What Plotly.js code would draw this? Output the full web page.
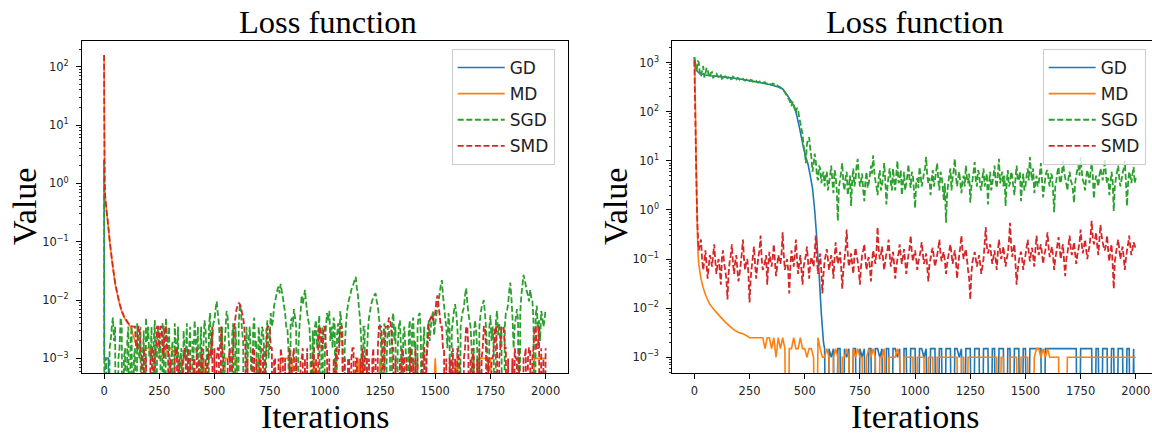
<!DOCTYPE html>
<html><head><meta charset="utf-8">
<script src="https://cdn.plot.ly/plotly-3.0.1.min.js"></script>
<style>html,body{margin:0;padding:0;background:#fff}#chart{width:1152px;height:435px}</style>
</head><body><div id="chart"></div>
<script>
// ---------------- data ----------------
const X_TICKS = [0, 250, 500, 750, 1000, 1250, 1500, 1750, 2000];
const Y_TICKS = [1e-3, 1e-2, 1e-1, 1, 10, 100, 1000];
const Y_TICK_TEXT = ['10<sup>−3</sup>', '10<sup>−2</sup>', '10<sup>−1</sup>', '10<sup>0</sup>', '10<sup>1</sup>', '10<sup>2</sup>', '10<sup>3</sup>'];
const SERIES_NAMES = ['GD', 'MD', 'SGD', 'SMD'];
const TITLE_TEXT = 'Loss function';
const X_TITLE = 'Iterations';
const Y_TITLE = 'Value';

// ===== Left panel =====
const leftGDIters = [0, 1, 5, 10, 15, 20, 22, 2000];
const leftGDValues = [2.5, 0.001, 0.001, 0.001, 0.001, 0.001, 0, 0];

const leftDecayIters = [0, 1, 2, 3, 5, 8, 12, 16, 20, 25, 30, 35, 40, 45, 50, 60, 70, 80, 90, 100, 110, 120];
const leftMDDecay = [155, 13, 2.5, 0.95, 0.6, 0.44, 0.31, 0.23, 0.165, 0.105, 0.072, 0.05, 0.036, 0.026, 0.019, 0.0125, 0.0085, 0.0064, 0.0051, 0.0044, 0.0039, 0.0035];
const leftMDTail = [0.0015, 0.0015, 0.001, 0.0015, 0.001, 0, 0.001, 0, 0.001, 0.001,
  0, 0.001, 0, 0.001, 0.001, 0, 0.001, 0, 0.001, 0,
  0.001, 0, 0.001, 0, 0.001, 0.001, 0, 0.001, 0, 0.001,
  0, 0.001, 0.001, 0, 0.001, 0, 0.001, 0.001]; // iterations 150..2000, every 50

const leftSGDHeadIters = [0, 1, 2, 5];
const leftSGDHead = [2.5, 0.001, 0, 0.001];
const leftSGDTail = [ // iterations 10, 20, ..., 2000
  0.001, 0, 0.002, 0.005, 0.0035, 0, 0.0015, 0.0035, 0.001, 0,
  0.0035, 0.002, 0, 0.0015, 0.004, 0.001, 0, 0.003, 0.005, 0.0035,
  0.001, 0, 0.0045, 0.002, 0.001, 0, 0.0035, 0.005, 0.0015, 0,
  0.002, 0.004, 0.001, 0, 0.0015, 0.003, 0.001, 0, 0.0035, 0.002,
  0.0045, 0.001, 0, 0.0035, 0.0015, 0.003, 0, 0.006, 0.002, 0.0045,
  0.0095, 0.004, 0.0015, 0, 0.003, 0.005, 0.001, 0.0025, 0, 0.0015,
  0.004, 0.0065, 0.002, 0, 0.001, 0.0035, 0, 0.005, 0.002, 0.0035,
  0.001, 0.003, 0, 0.0045, 0.002, 0.0035, 0.008, 0.012, 0.017, 0.019,
  0.011, 0.006, 0.0035, 0, 0.005, 0.007, 0.0035, 0.0015, 0.006, 0.0085,
  0.015, 0.006, 0.0035, 0, 0.001, 0.0045, 0.003, 0, 0.0035, 0.0015,
  0.006, 0.0065, 0.0035, 0.005, 0, 0.004, 0.0065, 0.003, 0.0015, 0.006,
  0.0105, 0.015, 0.019, 0.025, 0.012, 0.0045, 0, 0.0035, 0.001, 0.005,
  0.0085, 0.011, 0.013, 0.008, 0.0035, 0, 0.004, 0.001, 0.0035, 0,
  0.006, 0.0035, 0.0015, 0.0045, 0, 0.0035, 0.001, 0.003, 0, 0.005,
  0.002, 0.0035, 0.006, 0, 0.0035, 0.001, 0.0045, 0.0035, 0.0065, 0.004,
  0.0075, 0.013, 0.022, 0.008, 0.0035, 0.006, 0, 0.0045, 0.0085, 0.0035,
  0, 0.005, 0.0075, 0.016, 0.006, 0.0035, 0, 0.0045, 0.0015, 0.0035,
  0.0075, 0.01, 0.0035, 0, 0.0055, 0.0035, 0, 0.0065, 0.004, 0.0035,
  0, 0.006, 0.0085, 0.02, 0.005, 0.0035, 0.007, 0, 0.012, 0.027,
  0.018, 0.012, 0.015, 0.01, 0, 0.008, 0.0045, 0.0065, 0.0035, 0.007];
const leftSGDMid = [ // iterations 15, 25, ..., 1995
  0, 0.0015, 0.0035, 0.002, 0, 0.001, 0.005, 0, 0.0015, 0.002,
  0, 0.0035, 0.001, 0, 0.0015, 0.0035, 0.001, 0, 0.002, 0.001,
  0.0035, 0.002, 0, 0.0035, 0.002, 0.004, 0, 0.0025, 0.0035, 0.001,
  0, 0.0015, 0.0035, 0.001, 0, 0.0015, 0.004, 0.0015, 0, 0.001,
  0.002, 0.0035, 0.0015, 0, 0.0045, 0.001, 0.0035, 0.001, 0.004, 0.007,
  0.006, 0.0015, 0.0035, 0.0015, 0.0065, 0.002, 0, 0.004, 0.0035, 0,
  0.0085, 0.003, 0, 0.0035, 0.002, 0.001, 0.003, 0.0015, 0, 0.002,
  0.0035, 0.0015, 0.003, 0.001, 0.006, 0.0045, 0.0095, 0.015, 0.013, 0.014,
  0.008, 0.0035, 0.0015, 0.004, 0.0035, 0.005, 0, 0.0035, 0.012, 0.011,
  0.009, 0.0045, 0.0015, 0.003, 0.0035, 0.0015, 0.0055, 0.002, 0, 0.0035,
  0.0045, 0.002, 0.0015, 0.0035, 0.0025, 0.0015, 0.004, 0, 0.0035, 0.0085,
  0.012, 0.017, 0.022, 0.016, 0.007, 0.002, 0.0035, 0, 0.003, 0.0065,
  0.01, 0.0125, 0.0095, 0.005, 0.0015, 0.0025, 0, 0.0035, 0.0015, 0.0045,
  0.002, 0, 0.0035, 0.0015, 0.0025, 0.0015, 0, 0.0045, 0.0035, 0.0015,
  0, 0.0055, 0.0025, 0.0015, 0, 0.003, 0.002, 0.005, 0.0025, 0.0055,
  0.0095, 0.018, 0.012, 0.005, 0.0015, 0.0035, 0.003, 0.0065, 0.006, 0.0015,
  0.0035, 0.0065, 0.012, 0.0095, 0.0045, 0.0015, 0.0025, 0.003, 0, 0.0055,
  0.0085, 0.006, 0.0015, 0.0035, 0.002, 0.0015, 0.0045, 0.0025, 0.0015, 0,
  0.0035, 0.0065, 0.014, 0.011, 0.0015, 0.005, 0.0045, 0.006, 0.018, 0.022,
  0.014, 0.0095, 0.011, 0.0045, 0.0055, 0.003, 0.002, 0.005, 0.0045];

const leftSMDDecay = [158, 14, 2.6, 1.0, 0.62, 0.45, 0.32, 0.24, 0.17, 0.11, 0.075, 0.052, 0.037, 0.027, 0.02, 0.013, 0.0088, 0.0066, 0.0053, 0.0046, 0.004, 0.0036];
const leftSMDTail = [ // iterations 130, 140, ..., 2000
  0.0035, 0.0035, 0.0015, 0.0035, 0.001, 0.0015, 0.001, 0, 0.001, 0.0015,
  0.001, 0.0035, 0.0015, 0.0035, 0.001, 0.0035, 0.0015, 0.001, 0, 0.001,
  0.0015, 0.001, 0, 0.001, 0.001, 0.0015, 0.001, 0, 0.001, 0.0015,
  0.001, 0.001, 0, 0.001, 0.0015, 0.001, 0.0035, 0.0015, 0.001, 0.0015,
  0.0035, 0.001, 0, 0.001, 0.0015, 0.001, 0.0035, 0.007, 0.009, 0.0075,
  0.005, 0.0015, 0.001, 0, 0.001, 0.0015, 0.001, 0, 0.001, 0.0015,
  0.001, 0.0035, 0.0035, 0.0015, 0.001, 0, 0.001, 0.0015, 0.001, 0.001,
  0, 0.0015, 0.001, 0.0015, 0.001, 0, 0.001, 0.0015, 0.001, 0.0015,
  0, 0.001, 0.0015, 0.001, 0.0015, 0.0035, 0.0015, 0.0035, 0.0015, 0.001,
  0, 0.001, 0.0015, 0.001, 0.0035, 0.0015, 0.001, 0, 0.001, 0.001,
  0.0015, 0.001, 0, 0.001, 0.0015, 0.001, 0.0015, 0.001, 0, 0.0015,
  0.001, 0.0015, 0.0035, 0.0015, 0.001, 0.0035, 0.005, 0.0035, 0.0015, 0.001,
  0, 0.001, 0.0015, 0.001, 0.001, 0, 0.0015, 0.001, 0.0015, 0.001,
  0, 0.001, 0.0015, 0.001, 0.0035, 0.005, 0.0045, 0.006, 0.012, 0.0055,
  0.0035, 0.0015, 0.001, 0, 0.001, 0.0015, 0.001, 0.0015, 0.001, 0,
  0.001, 0.0035, 0.0015, 0.001, 0.0015, 0, 0.001, 0.0015, 0.001, 0.0035,
  0.0015, 0.001, 0, 0.001, 0.0035, 0.0015, 0.001, 0.0035, 0.0035, 0.0015,
  0.001, 0, 0.001, 0.0015, 0.001, 0.0015, 0, 0.001, 0.0015, 0.001,
  0.0015, 0.001, 0.0035, 0.0015, 0.0035, 0.0015, 0.001, 0.0015];
const leftSMDMid = [ // iterations 135, 145, ..., 1995
  0.0035, 0.0015, 0.0035, 0.0015, 0, 0.001, 0, 0, 0.0015, 0,
  0.0015, 0.0035, 0.0035, 0.0015, 0.0035, 0.0015, 0, 0, 0, 0.0015,
  0, 0, 0.001, 0.0015, 0, 0, 0, 0.001, 0, 0,
  0, 0.0015, 0, 0, 0.001, 0.0015, 0, 0, 0.0015, 0,
  0.0015, 0, 0, 0.001, 0, 0.0015, 0.005, 0.008, 0.0085, 0.006,
  0.0035, 0, 0, 0, 0.0015, 0, 0, 0.001, 0, 0,
  0.0015, 0.0035, 0.0015, 0, 0.001, 0, 0, 0.001, 0, 0,
  0, 0, 0.001, 0, 0, 0, 0.001, 0, 0, 0,
  0, 0.001, 0, 0, 0.0035, 0.0015, 0.0035, 0.0015, 0, 0,
  0, 0, 0.001, 0.0015, 0.0035, 0, 0, 0.001, 0, 0.0015,
  0, 0.001, 0, 0, 0, 0.001, 0, 0, 0.001, 0,
  0, 0.0035, 0.0035, 0, 0.0035, 0.0035, 0.0045, 0.0015, 0, 0,
  0, 0, 0.001, 0, 0, 0.001, 0, 0, 0, 0,
  0, 0.001, 0, 0.0015, 0.0045, 0.0055, 0.005, 0.0095, 0.008, 0.0035,
  0.0015, 0, 0, 0.001, 0, 0, 0, 0.001, 0, 0,
  0.0015, 0.0035, 0, 0, 0.001, 0, 0, 0, 0.0015, 0.0035,
  0, 0, 0.001, 0.0015, 0.0035, 0, 0.0015, 0.0035, 0.0015, 0,
  0, 0, 0, 0.001, 0, 0, 0, 0.001, 0, 0.0015,
  0, 0.0015, 0.0035, 0.0015, 0, 0, 0];

// ===== Right panel =====
const rightGDHeadIters = [0, 3, 10, 20, 30, 50, 75, 100, 150, 200, 250, 300, 350, 380, 400, 420, 440, 455, 465, 475, 485, 495, 505, 515, 525, 535, 545, 550, 555, 560, 565, 570, 575, 580, 585];
const rightGDHead = [1300, 1000, 700, 620, 590, 560, 540, 530, 500, 470, 430, 390, 350, 320, 290, 220, 160, 120, 80, 50, 30, 18, 12, 8.5, 5, 2.8, 1.0, 0.5, 0.25, 0.1, 0.05, 0.02, 0.008, 0.004, 0.002];
const rightGDTail = [ // iterations 590, 600, ..., 2000
  0.0015, 0, 0.0015, 0.001, 0.0015, 0, 0.0015, 0.0015, 0, 0.0015,
  0.001, 0.0015, 0, 0.0015, 0.0015, 0, 0.0015, 0.001, 0.0015, 0,
  0.0015, 0.0015, 0, 0.0015, 0.0015, 0.001, 0.0015, 0, 0.0015, 0.0015,
  0, 0.0015, 0.0015, 0.001, 0.0015, 0, 0.0015, 0.0015, 0, 0.0015,
  0.0015, 0.0015, 0, 0.0015, 0.0015, 0.001, 0.0015, 0, 0.0015, 0.0015,
  0.0015, 0, 0.0015, 0.0015, 0, 0.0015, 0.0015, 0.0015, 0, 0.0015,
  0.0015, 0.001, 0.0015, 0, 0.0015, 0.0015, 0.0015, 0, 0.0015, 0.0015,
  0.0015, 0, 0.0015, 0.0015, 0.0015, 0, 0.0015, 0.0015, 0, 0.0015,
  0.0015, 0.0015, 0, 0.0015, 0.0015, 0, 0.0015, 0.0015, 0.0015, 0,
  0.0015, 0.0015, 0, 0.0015, 0.0015, 0.0015, 0.0015, 0.0015, 0.0015, 0,
  0.0015, 0.0015, 0.0015, 0.0015, 0.0015, 0.0015, 0.0015, 0.0015, 0.0015, 0.0015,
  0.0015, 0.0015, 0.0015, 0.0015, 0.0015, 0, 0.0015, 0.0015, 0.0015, 0.0015,
  0.0015, 0.0015, 0, 0.0015, 0.0015, 0, 0.0015, 0.0015, 0.0015, 0,
  0.0015, 0.0015, 0, 0.0015, 0.0015, 0.0015, 0, 0.0015, 0.0015, 0,
  0.0015, 0];

const rightMDHeadIters = [0, 2, 5, 8, 11, 14, 17, 20, 25, 30, 40, 50, 60, 70, 80, 90, 100, 120, 140, 160, 180, 200, 220, 240, 250];
const rightMDHead = [1200, 600, 100, 10, 1.5, 0.3, 0.12, 0.08, 0.055, 0.04, 0.026, 0.019, 0.015, 0.012, 0.0105, 0.0092, 0.0082, 0.0065, 0.0052, 0.0043, 0.0036, 0.0032, 0.003, 0.0027, 0.0025];
const rightMDTail = [ // iterations 260, 270, ..., 2000
  0.0025, 0.0025, 0.0025, 0.0025, 0.0025, 0.0025, 0.0015, 0.0025, 0.0025, 0.0015,
  0.0025, 0.001, 0.0025, 0.0015, 0.0025, 0.0015, 0, 0.0015, 0.0015, 0.0025,
  0.0015, 0.0015, 0.0025, 0.0015, 0.0015, 0.001, 0.0015, 0.0015, 0.001, 0,
  0.0025, 0.0015, 0.001, 0.001, 0.0015, 0.001, 0, 0.001, 0.0015, 0.001,
  0, 0.001, 0.001, 0.0015, 0.001, 0, 0.0015, 0.001, 0.0015, 0.001,
  0.001, 0, 0.001, 0.0015, 0.001, 0.0015, 0.001, 0, 0.001, 0.001,
  0.0015, 0, 0.001, 0.001, 0.001, 0.001, 0.0015, 0.001, 0, 0.001,
  0.001, 0.001, 0.001, 0.001, 0, 0.001, 0.001, 0.001, 0.001, 0,
  0.001, 0.001, 0.001, 0, 0.001, 0.001, 0.001, 0.001, 0.001, 0.001,
  0.001, 0.001, 0.001, 0.001, 0, 0.001, 0.001, 0, 0.001, 0.001,
  0.001, 0.001, 0.001, 0.001, 0.001, 0.001, 0.001, 0.001, 0.001, 0.001,
  0.001, 0.001, 0, 0.001, 0.001, 0, 0, 0.001, 0.001, 0.001,
  0.001, 0, 0.001, 0.001, 0.001, 0.001, 0, 0, 0.001, 0.0015,
  0.0015, 0.001, 0.0015, 0.001, 0.0015, 0.001, 0.001, 0.001, 0.001, 0.001,
  0, 0, 0, 0.001, 0.001, 0.001, 0.001, 0.001, 0.001, 0.001,
  0.001, 0.001, 0.001, 0.001, 0.001, 0.001, 0.001, 0.001, 0.001, 0.001,
  0.001, 0.001, 0.001, 0.001, 0.001, 0.001, 0.001, 0.001, 0.001, 0.001,
  0.001, 0.001, 0.001, 0.001, 0.001];

const rightSGD = [ // iterations 0, 10, ..., 2000
  1300, 650, 1000, 520, 850, 560, 720, 500, 640, 540,
  600, 510, 560, 490, 530, 480, 520, 470, 500, 455,
  480, 440, 470, 430, 455, 420, 440, 405, 425, 395,
  410, 380, 400, 370, 385, 355, 370, 340, 330, 310,
  280, 250, 200, 175, 130, 140, 95, 110, 60, 35,
  15, 22, 30, 12, 8, 10, 4, 7, 5, 3,
  6, 3.5, 8, 2.2, 5, 0.6, 4, 9, 2.5, 6,
  3, 1.2, 7, 4, 11, 3, 5.5, 1.5, 6, 3.5,
  8, 13, 4, 2, 6.5, 3, 9, 1.3, 5, 3.5,
  7, 2.5, 10, 4, 2, 6, 3.5, 8.5, 2.8, 5,
  1.1, 4.5, 7.5, 3, 5.5, 12, 3.5, 2, 6.5, 4,
  9, 2.5, 5, 1.6, 0.55, 3.5, 7, 4.5, 11, 3,
  6, 2.2, 5, 8, 3.5, 1.4, 4, 9.5, 3, 5.5,
  2.5, 7, 4, 1.3, 6, 3.5, 8, 2.8, 11, 4.5,
  3, 1.2, 6.5, 3.5, 5, 2, 8, 4, 1.5, 5.5,
  3, 7, 12, 4, 2.2, 5, 3.5, 9, 1.8, 4.5,
  6.5, 3, 5, 0.9, 4, 7.5, 3.5, 10, 4.5, 2.5,
  6, 3.5, 1.4, 5, 8, 12, 4, 2.5, 6.5, 3.5,
  9, 1.7, 5, 3, 7, 4, 11, 3.5, 2, 6,
  0.95, 4.5, 8, 3, 5.5, 10, 1.2, 6, 3.5, 7.5,
  4.5];
const rightSGDMid = [ // iterations 5, 15, ..., 1995
  900, 1100, 600, 700, 500, 780, 560, 620, 480, 610,
  520, 580, 470, 540, 500, 505, 460, 520, 470, 490,
  450, 460, 440, 450, 425, 445, 410, 430, 400, 415,
  390, 395, 380, 375, 360, 375, 350, 345, 325, 300,
  270, 230, 190, 150, 160, 110, 120, 75, 45, 20,
  9, 28, 18, 6, 14, 5, 8, 3.5, 6, 5,
  2.5, 5, 4, 6.5, 2.5, 3, 6, 3.5, 4.5, 2,
  5, 4, 3, 8, 5, 4, 2.5, 4, 2.8, 5,
  5.5, 6, 3, 4.5, 2.5, 5, 4, 3, 7, 2.5,
  4, 5.5, 3.5, 6.5, 3.5, 2.5, 5, 4, 6, 2.5,
  3.5, 2.8, 5, 4, 7, 5, 4.5, 4, 3, 6,
  4, 6, 3, 3.5, 2, 5, 2.5, 6.5, 5, 4.5,
  3.5, 4, 3, 4.5, 5.5, 3, 6, 4, 6.5, 3,
  4.5, 3, 5.5, 3.5, 2.5, 5, 4, 5.5, 3.5, 6,
  5, 3.5, 3, 6, 3, 4.5, 4, 6, 3.5, 2.5,
  5, 4, 6, 7, 3.5, 3, 5.5, 4, 3, 6,
  4, 5.5, 2.5, 3, 6, 4, 5.5, 6, 3.5, 4.5,
  4, 2.5, 3.5, 6.5, 5, 6, 3.5, 4.5, 5, 6,
  5, 3.5, 4, 5, 5.5, 6.5, 5, 4.5, 3.5, 4,
  3, 6, 4.5, 4, 7, 4, 3.5, 5, 5.5, 3.5];

const rightSMDHeadIters = [0, 2, 5, 8, 11, 14, 17, 20];
const rightSMDHead = [1100, 300, 50, 8, 1.5, 0.5, 0.25, 0.15];
const rightSMDTail = [ // iterations 30, 40, ..., 2000
  0.25, 0.06, 0.15, 0.04, 0.12, 0.07, 0.2, 0.05, 0.1, 0.03,
  0.15, 0.06, 0.015, 0.09, 0.2, 0.05, 0.12, 0.035, 0.08, 0.25,
  0.06, 0.1, 0.013, 0.07, 0.18, 0.04, 0.11, 0.3, 0.06, 0.09,
  0.03, 0.14, 0.07, 0.2, 0.045, 0.12, 0.08, 0.35, 0.06, 0.1,
  0.02, 0.15, 0.07, 0.25, 0.05, 0.12, 0.03, 0.09, 0.18, 0.04,
  0.11, 0.07, 0.3, 0.05, 0.13, 0.02, 0.09, 0.16, 0.06, 0.12,
  0.04, 0.22, 0.08, 0.14, 0.025, 0.1, 0.4, 0.07, 0.13, 0.05,
  0.17, 0.09, 0.03, 0.12, 0.2, 0.06, 0.11, 0.035, 0.15, 0.08,
  0.45, 0.1, 0.18, 0.06, 0.13, 0.25, 0.07, 0.14, 0.04, 0.1,
  0.2, 0.08, 0.16, 0.05, 0.12, 0.3, 0.09, 0.15, 0.06, 0.11,
  0.22, 0.08, 0.13, 0.035, 0.1, 0.17, 0.07, 0.12, 0.25, 0.09,
  0.14, 0.05, 0.11, 0.2, 0.08, 0.15, 0.04, 0.12, 0.3, 0.1,
  0.16, 0.06, 0.015, 0.09, 0.14, 0.07, 0.12, 0.05, 0.1, 0.45,
  0.13, 0.2, 0.08, 0.15, 0.06, 0.25, 0.1, 0.18, 0.07, 0.13,
  0.55, 0.11, 0.2, 0.03, 0.09, 0.14, 0.06, 0.12, 0.25, 0.09,
  0.17, 0.07, 0.3, 0.12, 0.2, 0.08, 0.15, 0.35, 0.11, 0.18,
  0.06, 0.14, 0.28, 0.1, 0.2, 0.045, 0.13, 0.3, 0.12, 0.22,
  0.08, 0.16, 0.4, 0.13, 0.25, 0.1, 0.18, 0.6, 0.2, 0.35,
  0.12, 0.5, 0.22, 0.15, 0.3, 0.09, 0.2, 0.025, 0.13, 0.25,
  0.1, 0.18, 0.06, 0.15, 0.3, 0.12, 0.22, 0.15];
const rightSMDMid = [ // iterations 35, 45, ..., 1995
  0.1, 0.09, 0.08, 0.07, 0.1, 0.12, 0.09, 0.08, 0.06, 0.11,
  0.08, 0.04, 0.05, 0.12, 0.08, 0.09, 0.06, 0.05, 0.13, 0.1,
  0.09, 0.05, 0.04, 0.11, 0.08, 0.07, 0.15, 0.1, 0.07, 0.12,
  0.08, 0.09, 0.11, 0.09, 0.07, 0.1, 0.13, 0.12, 0.08, 0.06,
  0.07, 0.1, 0.12, 0.1, 0.08, 0.06, 0.07, 0.12, 0.09, 0.08,
  0.09, 0.13, 0.1, 0.08, 0.06, 0.05, 0.12, 0.1, 0.08, 0.09,
  0.1, 0.12, 0.1, 0.07, 0.06, 0.16, 0.13, 0.09, 0.08, 0.11,
  0.12, 0.06, 0.07, 0.15, 0.1, 0.09, 0.07, 0.09, 0.11, 0.14,
  0.16, 0.12, 0.1, 0.09, 0.15, 0.12, 0.1, 0.08, 0.07, 0.13,
  0.12, 0.11, 0.09, 0.08, 0.17, 0.14, 0.12, 0.1, 0.09, 0.15,
  0.13, 0.1, 0.07, 0.08, 0.14, 0.11, 0.09, 0.16, 0.13, 0.12,
  0.09, 0.08, 0.15, 0.13, 0.11, 0.09, 0.07, 0.18, 0.14, 0.13,
  0.1, 0.04, 0.05, 0.11, 0.1, 0.09, 0.08, 0.07, 0.2, 0.18,
  0.16, 0.12, 0.11, 0.1, 0.14, 0.15, 0.13, 0.11, 0.1, 0.22,
  0.2, 0.15, 0.08, 0.06, 0.12, 0.1, 0.09, 0.17, 0.14, 0.13,
  0.11, 0.15, 0.18, 0.16, 0.13, 0.12, 0.22, 0.17, 0.14, 0.12,
  0.1, 0.2, 0.16, 0.15, 0.09, 0.1, 0.19, 0.17, 0.16, 0.13,
  0.12, 0.22, 0.2, 0.18, 0.16, 0.14, 0.3, 0.28, 0.25, 0.19,
  0.25, 0.3, 0.17, 0.2, 0.14, 0.15, 0.08, 0.09, 0.18, 0.16,
  0.14, 0.11, 0.1, 0.2, 0.18, 0.16, 0.19];

// ---------------- helpers ----------------
const COLORS = {GD: '#1f77b4', MD: '#ff7f0e', SGD: '#2ca02c', SMD: '#d62728'};
const DASHES = {GD: 'solid', MD: 'solid', SGD: '6px,2.6px', SMD: '6px,2.6px'};
const WIDTHS = {GD: 1.6, MD: 1.6, SGD: 1.8, SMD: 1.8};
const FLOOR = 1e-7; // a zero loss cannot sit on a log axis: send it below the axis, where it is clipped

function grid(start, step, n) { const a = []; for (let i = 0; i < n; i++) a.push(start + i * step); return a; }
function interleave(a, b) { const out = []; for (let i = 0; i < a.length; i++) { out.push(a[i]); if (i < b.length) out.push(b[i]); } return out; }
function series(headIters, headVals, tailStart, tailStep, tailVals) {
  const x = headIters.concat(tailVals ? grid(tailStart, tailStep, tailVals.length) : []);
  const y = headVals.concat(tailVals || []).map(v => (v > 0 ? v : FLOOR));
  return {x, y};
}
function trace(s, name, xa, ya, legend) {
  return {type: 'scatter', mode: 'lines', x: s.x, y: s.y, name: name, xaxis: xa, yaxis: ya,
    legend: legend, legendgroup: legend + name,
    line: {color: COLORS[name], width: WIDTHS[name], dash: DASHES[name], simplify: false}, hoverinfo: 'skip'};
}

const leftData = {
  GD: series(leftGDIters, leftGDValues),
  MD: series(leftDecayIters, leftMDDecay, 150, 50, leftMDTail),
  SGD: series(leftSGDHeadIters, leftSGDHead, 10, 5, interleave(leftSGDTail, leftSGDMid)),
  SMD: series(leftDecayIters, leftSMDDecay, 130, 5, interleave(leftSMDTail, leftSMDMid))
};
const rightData = {
  GD: series(rightGDHeadIters, rightGDHead, 590, 10, rightGDTail),
  MD: series(rightMDHeadIters, rightMDHead, 260, 10, rightMDTail),
  SGD: series([], [], 0, 5, interleave(rightSGD, rightSGDMid)),
  SMD: series(rightSMDHeadIters, rightSMDHead, 30, 5, interleave(rightSMDTail, rightSMDMid))
};

const traces = [];
SERIES_NAMES.forEach(n => traces.push(trace(leftData[n], n, 'x', 'y', 'legend')));
SERIES_NAMES.forEach(n => traces.push(trace(rightData[n], n, 'x2', 'y2', 'legend2')));

// ---------------- layout ----------------
const W = 1152, H = 435;
const tickFont = {family: 'DejaVu Sans, sans-serif', size: 11.5, color: '#222'};
const serif = 'Liberation Serif, Times New Roman, serif';
function xAxis(domain, range, anchor) {
  return {domain, range, anchor, tickmode: 'array', tickvals: X_TICKS, ticks: 'outside', ticklen: 5, tickwidth: 1,
    tickcolor: '#000', showline: true, linecolor: '#000', linewidth: 1, mirror: true, showgrid: false,
    zeroline: false, tickfont: tickFont, ticklabelstandoff: 2, fixedrange: true};
}
function yAxis(range, anchor, mirror) {
  return {type: 'log', domain: [(H - 373) / H, (H - 41) / H], range, anchor, tickmode: 'array',
    tickvals: Y_TICKS, ticktext: Y_TICK_TEXT, ticks: 'outside', ticklen: 5, tickwidth: 1, tickcolor: '#000',
    minor: {ticks: 'outside', ticklen: 2.5, tickcolor: '#000', tickwidth: 0.8, dtick: 'D1', showgrid: false},
    showline: true, linecolor: '#000', linewidth: 1, mirror: mirror, showgrid: false, zeroline: false,
    tickfont: tickFont, ticklabelstandoff: 5, fixedrange: true};
}
function legendCfg(xpx) {
  return {x: xpx / W, y: 1 - 49 / H, xanchor: 'left', yanchor: 'top', bgcolor: 'rgba(255,255,255,0.8)',
    bordercolor: '#cccccc', borderwidth: 1, traceorder: 'grouped', tracegroupgap: 1, itemwidth: 47,
    font: {family: 'DejaVu Sans, sans-serif', size: 17, color: '#222'}};
}
function ann(text, xpx, ypx, size, angle) {
  return {text, x: xpx / W, y: 1 - ypx / H, xref: 'paper', yref: 'paper', xanchor: 'center', yanchor: 'middle',
    showarrow: false, textangle: angle || 0, font: {family: serif, size, color: '#000'}};
}

const leftCenter = (82 + 567.7) / 2 + 3, rightCenter = (672.3 + 1158) / 2;
const layout = {
  width: W, height: H, margin: {l: 0, r: 0, t: 0, b: 0}, paper_bgcolor: '#fff', plot_bgcolor: '#fff',
  showlegend: true,
  xaxis: xAxis([82 / W, 567.7 / W], [-100, 2100], 'y'),
  yaxis: yAxis([-3.25, 2.44], 'x', true),
  xaxis2: xAxis([672.3 / W, 1], [-100, (W - 694) / 0.2209], 'y2'),
  yaxis2: yAxis([-3.32, 3.44], 'x2', false),
  legend: legendCfg(451.7),
  legend2: legendCfg(1042.7),
  annotations: [
    ann(TITLE_TEXT, leftCenter, 22, 32.5), ann(TITLE_TEXT, rightCenter, 22, 32.5),
    ann(X_TITLE, (82 + 567.7) / 2, 416, 34), ann(X_TITLE, rightCenter, 416, 34),
    ann(Y_TITLE, 24, 207, 34, -90), ann(Y_TITLE, 615, 207, 34, -90)
  ]
};

Plotly.newPlot('chart', traces, layout, {staticPlot: true, displayModeBar: false});
</script>
</body></html>
